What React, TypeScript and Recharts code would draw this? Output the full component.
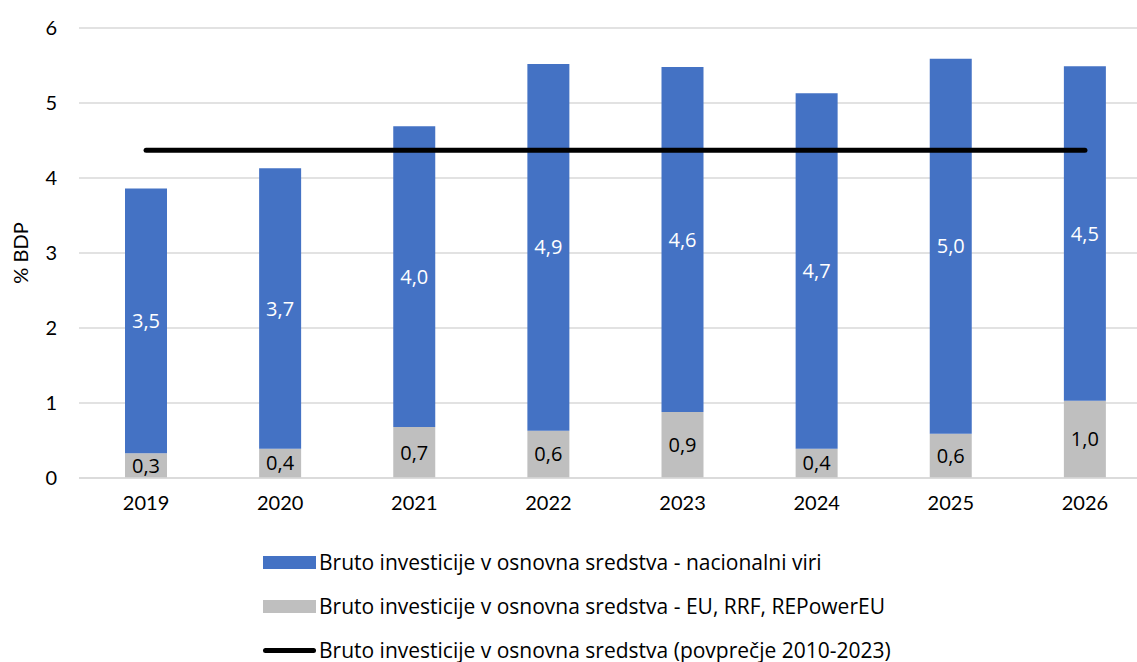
import React from 'react';
import { ComposedChart, Bar, Line, XAxis, YAxis, CartesianGrid, Legend, LabelList } from 'recharts';

const years = ['2019', '2020', '2021', '2022', '2023', '2024', '2025', '2026'];
const euFunds = [0.33, 0.39, 0.68, 0.63, 0.88, 0.39, 0.59, 1.03];
const nationalFunds = [3.53, 3.74, 4.01, 4.89, 4.6, 4.74, 5.0, 4.46];
const average = [4.37, 4.37, 4.37, 4.37, 4.37, 4.37, 4.37, 4.37];
const yTicks = [0, 1, 2, 3, 4, 5, 6];

const seriesNames = {
  national: 'Bruto investicije v osnovna sredstva - nacionalni viri',
  eu: 'Bruto investicije v osnovna sredstva - EU, RRF, REPowerEU',
  avg: 'Bruto investicije v osnovna sredstva (povprečje 2010-2023)',
};

const data = years.map((year, i) => ({
  year,
  eu: euFunds[i],
  national: nationalFunds[i],
  avg: average[i],
}));

const FONT = 'Lato, "Open Sans", sans-serif';
const LEGEND_FONT = '"Open Sans", sans-serif';
const BLUE = '#4472c4';
const GRAY = '#bfbfbf';

const fmt = (v: any) => Number(v).toFixed(1).replace('.', ',');

const LegendContent = () => {
  const rows = [
    { key: 'national', color: BLUE, type: 'bar' },
    { key: 'eu', color: GRAY, type: 'bar' },
    { key: 'avg', color: '#000', type: 'line' },
  ];
  return (
    <div style={{ fontFamily: LEGEND_FONT, fontSize: 21, color: '#000', paddingTop: 22 }}>
      {rows.map((r) => (
        <div key={r.key} style={{ display: 'flex', alignItems: 'center', height: 44, paddingLeft: 263 }}>
          {r.type === 'bar' ? (
            <span style={{ display: 'inline-block', width: 53, height: 13, background: r.color }} />
          ) : (
            <span style={{ display: 'inline-block', width: 53, height: 5, borderRadius: 3, background: r.color }} />
          )}
          <span style={{ marginLeft: 3 }}>{seriesNames[r.key as keyof typeof seriesNames]}</span>
        </div>
      ))}
    </div>
  );
};

const App: React.FC = () => {
  return (
    <div style={{ position: 'absolute', left: 0, top: 0, width: 1137, height: 662, overflow: 'hidden', background: '#fff' }}>
      <ComposedChart
        width={1152}
        height={662}
        data={data}
        barCategoryGap={0}
        margin={{ top: 28, right: 0, left: 0, bottom: 0 }}
      >
        <CartesianGrid vertical={false} stroke="#d9d9d9" strokeWidth={1.5} />
        <XAxis
          dataKey="year"
          height={40}
          tickLine={false}
          axisLine={{ stroke: '#d9d9d9', strokeWidth: 1.5 }}
          tickMargin={12}
          tick={{ fill: '#000', fontSize: 20, fontFamily: FONT }}
        />
        <YAxis
          width={79}
          domain={[0, 6]}
          ticks={yTicks}
          interval={0}
          tickLine={false}
          axisLine={false}
          tickMargin={16}
          tick={{ fill: '#000', fontSize: 20, fontFamily: FONT }}
          label={{
            value: '% BDP',
            angle: -90,
            position: 'insideLeft',
            dx: 16,
            style: { textAnchor: 'middle', fill: '#000', fontSize: 20, fontFamily: FONT },
          }}
        />
        <Legend verticalAlign="bottom" align="left" height={144} content={<LegendContent />} />
        <Bar dataKey="eu" stackId="a" fill={GRAY} barSize={42} isAnimationActive={false} name={seriesNames.eu}>
          <LabelList dataKey="eu" position="center" formatter={fmt} fill="#000" fontSize={20} fontFamily={LEGEND_FONT} />
        </Bar>
        <Bar dataKey="national" stackId="a" fill={BLUE} barSize={42} isAnimationActive={false} name={seriesNames.national}>
          <LabelList dataKey="national" position="center" formatter={fmt} fill="#fff" fontSize={20} fontFamily={LEGEND_FONT} />
        </Bar>
        <Line
          dataKey="avg"
          stroke="#000"
          strokeWidth={5}
          strokeLinecap="round"
          dot={false}
          activeDot={false}
          isAnimationActive={false}
          name={seriesNames.avg}
        />
      </ComposedChart>
    </div>
  );
};

export default App;
